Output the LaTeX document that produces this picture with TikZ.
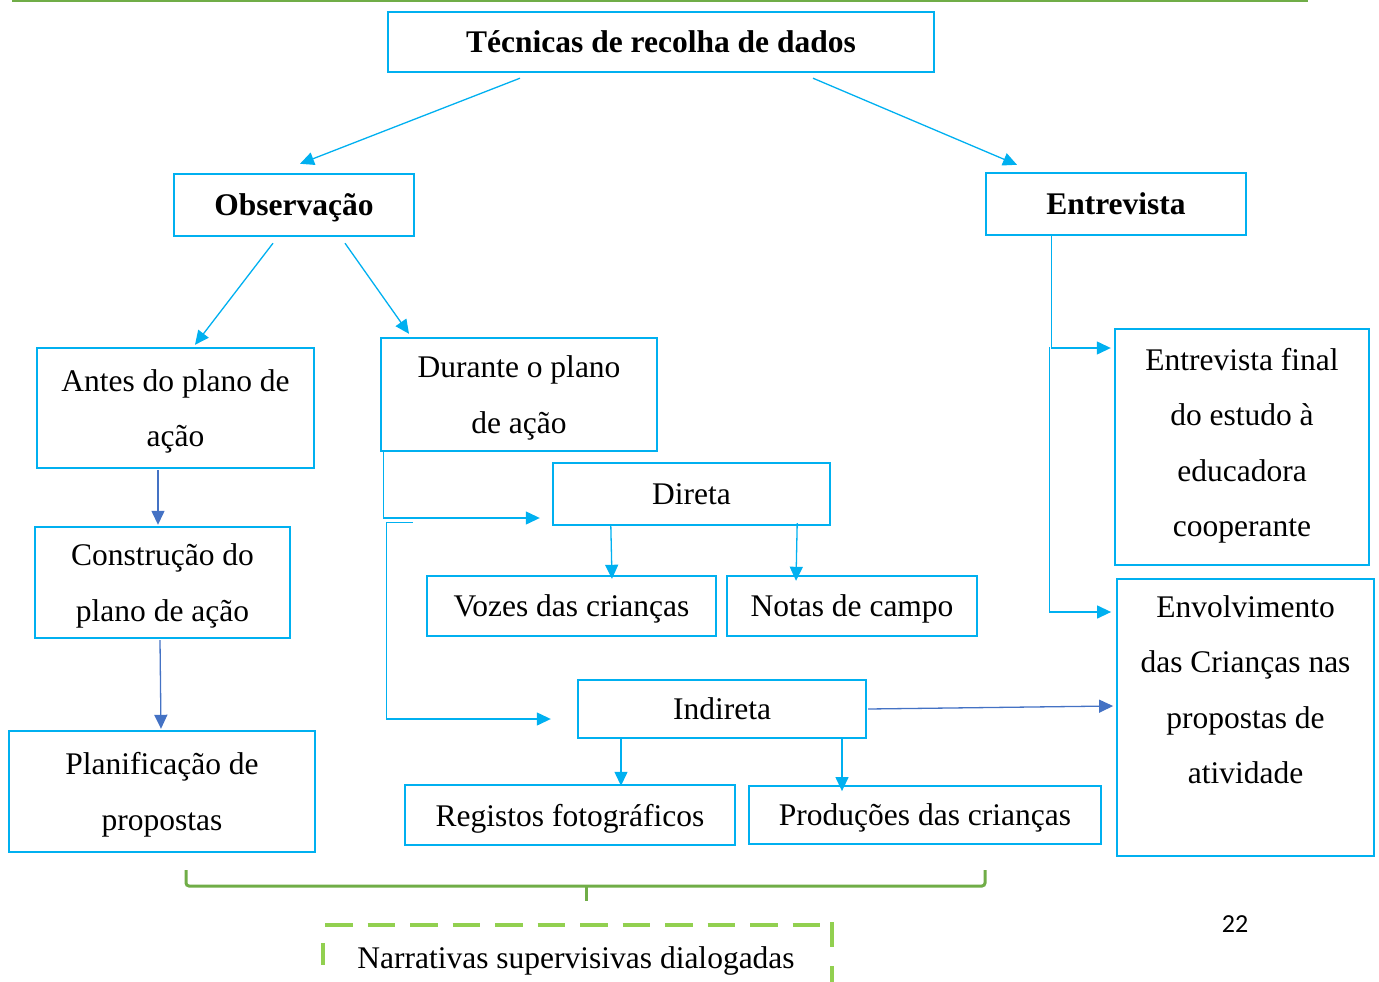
\documentclass[tikz,border=0pt]{standalone}
\usepackage{fontspec}
\setmainfont{Liberation Serif}
\newfontfamily\pgnumfont{Carlito}
\usetikzlibrary{arrows.meta,calc}
\definecolor{cyanb}{HTML}{00B0F0}
\definecolor{blueb}{HTML}{4472C4}
\definecolor{greenb}{HTML}{70AD47}
\definecolor{lgreen}{HTML}{92D050}
\begin{document}
\begin{tikzpicture}[x=1pt,y=-1pt,
  box/.style={draw=cyanb,line width=2.4pt,inner sep=0pt,align=center,text depth=0pt,
    font=\fontsize{31.5}{55.5}\selectfont},
  bbox/.style={box,font=\fontsize{31.5}{55.5}\selectfont\bfseries},
  arr/.style={draw=cyanb,line width=1.3pt,-{Triangle[length=14pt,width=13pt]}},
  barr/.style={draw=blueb,line width=1.3pt,-{Triangle[length=14pt,width=13pt]}},
  plain/.style={font=\fontsize{31.5}{55.5}\selectfont,inner sep=0pt}]
\useasboundingbox (0,0) rectangle (1379,982);
% top rule
\draw[greenb,line width=2.5pt] (12,1) -- (1308,1);
% boxes
\node[bbox,minimum width=546pt,minimum height=60pt] (tec) at (661,42) {Técnicas de recolha de dados};
\node[bbox,minimum width=240pt,minimum height=62pt] (obs) at (294,205) {Observação};
\node[bbox,minimum width=260pt,minimum height=62pt] (ent) at (1116,204) {Entrevista};
\node[box,minimum width=277pt,minimum height=120pt] (antes) at (175.5,408) {Antes do plano de\\ação};
\node[box,minimum width=276pt,minimum height=113pt] (dur) at (519,394.5) {Durante o plano\\de ação};
\node[box,minimum width=277pt,minimum height=62pt] (dir) at (691.5,494) {Direta};
\node[box,minimum width=289pt,minimum height=60pt] (voz) at (571.5,606) {Vozes das crianças};
\node[box,minimum width=250pt,minimum height=60pt] (notas) at (852,606) {Notas de campo};
\node[box,minimum width=255pt,minimum height=111pt] (cons) at (162.5,582.5) {Construção do\\plano de ação};
\node[box,minimum width=306pt,minimum height=121pt] (plan) at (162,791.5) {Planificação de\\propostas};
\node[box,minimum width=288pt,minimum height=58pt] (ind) at (722,709) {Indireta};
\node[box,minimum width=330pt,minimum height=60pt] (reg) at (570,815) {Registos fotográficos};
\node[box,line width=1.8pt,minimum width=352pt,minimum height=58pt] (prod) at (925,815) {Produções das crianças};
\node[box,text depth=9pt,minimum width=254pt,minimum height=236pt] (entf) at (1242,447) {Entrevista final\\do estudo à\\educadora\\cooperante};
\node[box,line width=1.8pt,minimum width=257pt,minimum height=277pt] (env) at (1245.5,717.5) {Envolvimento\\das Crianças nas\\propostas de\\atividade\\ \strut};
% connectors
\draw[arr] ($(tec.south)+(-141,5)$) -- ($(obs.north)+(6,-9)$);
\draw[arr] ($(tec.south)+(152,5)$) -- ($(ent.north)+(-99,-7)$);
\draw[arr] ($(obs.south)+(-21,6)$) -- ($(antes.north)+(19.5,-2)$);
\draw[arr] ($(obs.south)+(51,6)$) -- ($(dur.north)+(-110,-3)$);
\draw[barr] ($(antes.south)+(-17.5,1)$) -- ($(cons.north)+(-4.5,-1)$);
\draw[barr] ($(cons.south)+(-2.5,1)$) -- ($(plan.north)+(-1,-1)$);
\coordinate (d1) at ($(dur.south west)+(17,-2)$);
\coordinate (d2) at ($(dur.south west)+(4,-2)$);
\draw[arr] (d1) -- (d2) |- ($(dir.west)+(-12,24)$);
\coordinate (d3) at ($(dur.south west)+(33,70)$);
\coordinate (d4) at ($(dur.south west)+(7,70)$);
\draw[arr] (d3) -- (d4) |- ($(ind.west)+(-26,10)$);
\draw[arr] ($(dir.south west)+(59,-1)$) -- ($(voz.north)+(40.5,4)$);
\draw[arr] ($(dir.south east)+(-34,-3)$) -- ($(notas.north)+(-56,6)$);
\draw[arr] ($(ind.south)+(-101,0)$) -- ($(reg.north)+(51,2)$);
\draw[arr] ($(ind.south)+(120,0)$) -- ($(prod.north)+(-83,6)$);
\draw[barr] ($(ind.east)+(1,0)$) -- ($(env.west)+(-3,-11.5)$);
\draw[arr] ($(ent.south west)+(67,0)$) |- ($(entf.west)+(-3,-99)$);
\draw[arr] ($(ent.south west)+(65,111)$) |- ($(env.west)+(-5,-105.5)$);
% bracket
\draw[greenb,line width=3pt,rounded corners=3pt] (186,870) -- (186,886) -- (985,886) -- (985,870);
\draw[greenb,line width=3pt] (586,886) -- (586,901);
% dashed box
\draw[lgreen,line width=4pt,dash pattern=on 27.5pt off 15pt] (325,925) -- (832,925);
\draw[lgreen,line width=4pt] (323,943) -- (323,965);
\draw[lgreen,line width=4pt] (832,922) -- (832,947);
\draw[lgreen,line width=4pt] (832,966) -- (832,982);
\node[plain] (narr) at (576,961) {Narrativas supervisivas dialogadas};
\node[inner sep=0pt,font=\pgnumfont\fontsize{26}{30}\selectfont] (pg) at (1235,924) {22};
\end{tikzpicture}
\end{document}
